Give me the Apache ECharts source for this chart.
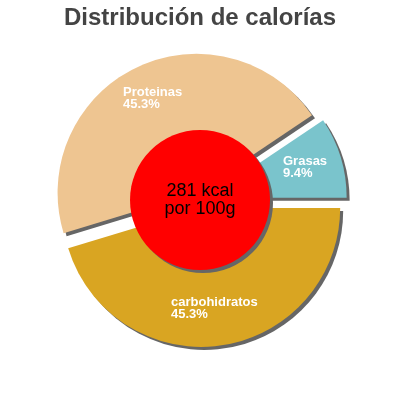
<!DOCTYPE html>
<html>
<head>
<meta charset="utf-8">
<script src="https://cdn.jsdelivr.net/npm/echarts@6/dist/echarts.min.js"></script>
<style>html,body{margin:0;padding:0;background:#fff}#c{width:400px;height:400px}</style>
</head>
<body>
<div id="c"></div>
<script>
var categories = ['Grasas', 'Proteinas', 'carbohidratos'];
var values = [9.4, 45.3, 45.3];
var colors = ['#7ac4cc', '#eec591', '#d9a522'];
var centerLines = ['281 kcal', 'por 100g'];
var titleText = 'Distribución de calorías';

var labelPos = [[283, 155], [123, 86], [171, 296]];

var FONT = 'Liberation Sans, Arial, sans-serif';
var chart = echarts.init(document.getElementById('c'), null, {renderer: 'canvas'});
var shadow = {shadowColor: '#666666', shadowOffsetX: 3, shadowOffsetY: 3, shadowBlur: 0};
chart.setOption({
  animation: false,
  textStyle: {fontFamily: FONT},
  title: {
    text: titleText, left: 'center', top: 6, padding: 0,
    textStyle: {fontSize: 24, fontWeight: 'bold', color: '#444444', fontFamily: FONT}
  },
  graphic: categories.map(function (c, i) {
    return {
      type: 'text', x: labelPos[i][0], y: labelPos[i][1], z: 100, silent: true,
      style: {
        text: c + '\n' + values[i].toFixed(1) + '%',
        fill: '#ffffff', font: 'bold 13px ' + FONT, lineHeight: 12,
        verticalAlign: 'top', align: 'left'
      }
    };
  }),
  series: [{
    type: 'pie',
    center: [200, 200],
    radius: [0, 139],
    startAngle: 0,
    clockwise: false,
    selectedMode: 'multiple',
    selectedOffset: 8,
    silent: true,
    avoidLabelOverlap: false,
    itemStyle: shadow,
    label: {show: false},
    labelLine: {show: false},
    emphasis: {disabled: true},
    data: categories.map(function (c, i) {
      return {name: c, value: values[i], selected: true, itemStyle: {color: colors[i]}};
    })
  }, {
    type: 'pie',
    center: [200, 200],
    radius: [0, 70],
    silent: true,
    emphasis: {disabled: true},
    itemStyle: Object.assign({color: '#ff0000'}, shadow),
    label: {
      show: true, position: 'center', color: '#000000',
      fontSize: 18, lineHeight: 18,
      fontFamily: FONT,
      formatter: centerLines.join('\n')
    },
    labelLine: {show: false},
    data: [{name: 'kcal', value: 1}]
  }]
});
</script>
</body>
</html>
